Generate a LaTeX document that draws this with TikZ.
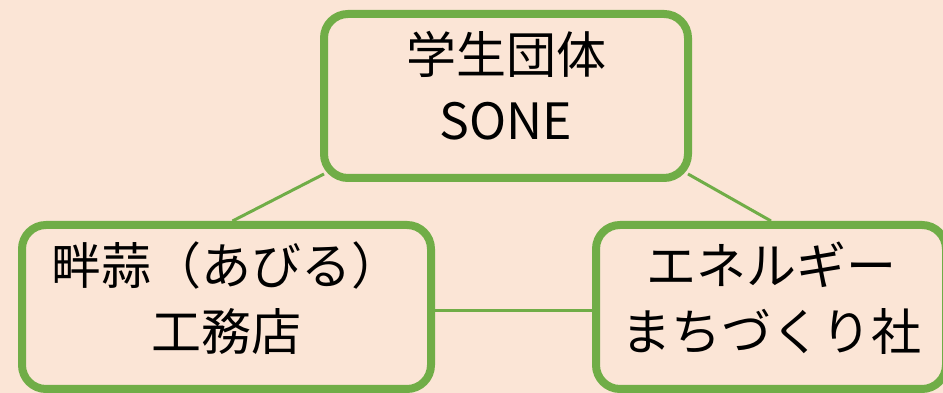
\documentclass[tikz,border=0pt]{standalone}
\usepackage{fontspec}
\newfontfamily\jpfont{Noto Sans CJK JP}
\usetikzlibrary{backgrounds}
\definecolor{bgpeach}{HTML}{FBE5D6}
\definecolor{leafgreen}{HTML}{70AD47}

\begin{document}
\begin{tikzpicture}[x=1pt, y=1pt]
	\tikzstyle{party} = [draw=leafgreen, line width=8pt, fill=bgpeach, rounded corners=24pt, align=center, inner sep=0pt, text depth=22pt, font={\jpfont\fontsize{50}{66}\selectfont}];
	\tikzstyle{link} = [draw=leafgreen, line width=3pt];

	\useasboundingbox (0,0) rectangle (943,393);

	\node[party, minimum width=364pt, minimum height=164pt] (sone) at (506,297) {学生団体\\SONE};
	\node[party, minimum width=409pt, minimum height=164pt] (abiru) at (226.5,86) {畔蒜（あびる）\\工務店};
	\node[party, minimum width=350pt, minimum height=164pt] (energy) at (771,86) {エネルギー\\まちづくり社};

	\begin{scope}[on background layer]
		\fill[bgpeach] (0,0) rectangle (943,393);
		\draw[link] ([xshift=4pt, yshift=8pt]sone.south west) -- ([xshift=6pt]abiru.north);
		\draw[link] ([xshift=-4pt, yshift=8pt]sone.south east) -- (energy.north);
		\draw[link] ([yshift=-4pt]abiru.east) -- ([yshift=-4pt]energy.west);
	\end{scope}
\end{tikzpicture}
\end{document}
